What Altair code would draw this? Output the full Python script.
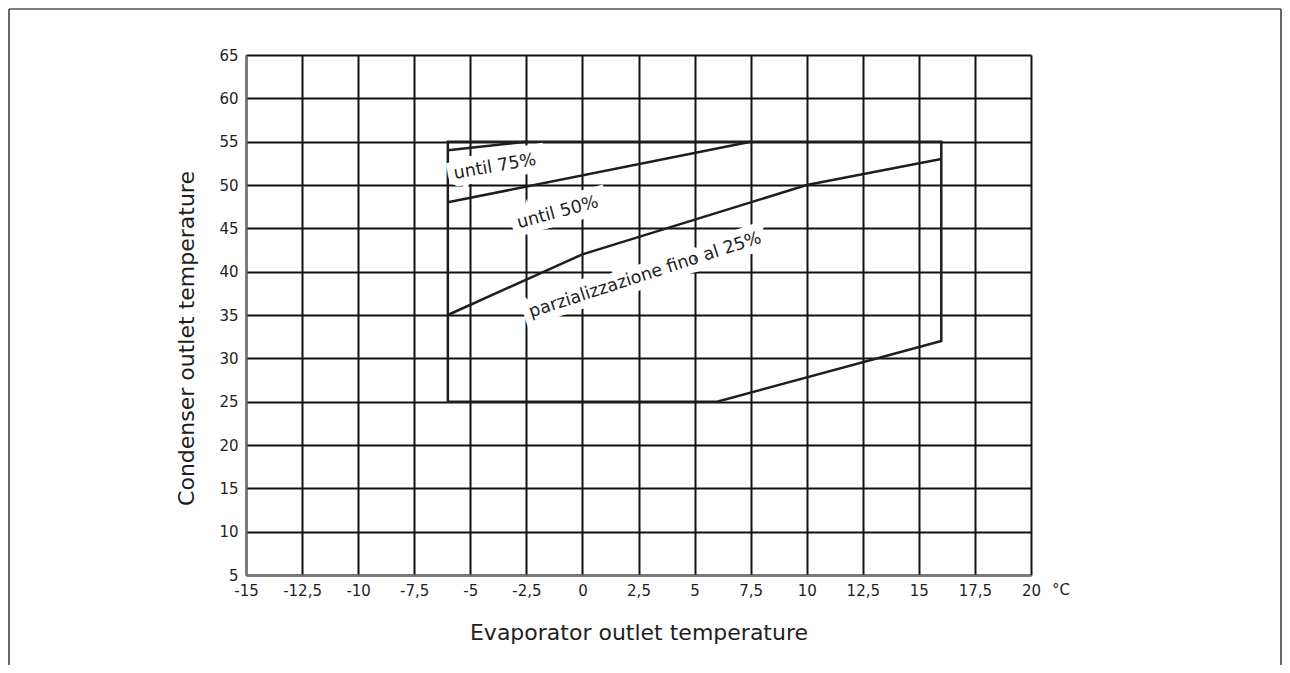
import altair as alt
import pandas as pd

# ---- data ----
x_ticks = [-15, -12.5, -10, -7.5, -5, -2.5, 0, 2.5, 5, 7.5, 10, 12.5, 15, 17.5, 20]
y_ticks = [5, 10, 15, 20, 25, 30, 35, 40, 45, 50, 55, 60, 65]

env_x = [-6, 6, 16, 16, -6, -6]
env_y = [25, 25, 32, 55, 55, 25]

l75_x = [-6, -2.5]
l75_y = [54, 55]

l50_x = [-6, 7.5]
l50_y = [48, 55]

l25_x = [-6, 0, 10, 16]
l25_y = [35, 42, 50, 53]

label_text = ["until 75%", "until 50%", "parzializzazione fino al 25%"]
label_x = [-3.9, -1.1, 2.8]
label_y = [52.1, 46.8, 39.6]
label_angle = [350, 345, 342]

unit_label = "°C"

# ---- tables ----
rows = []
for name, xs, ys in [("envelope", env_x, env_y), ("75", l75_x, l75_y),
                     ("50", l50_x, l50_y), ("25", l25_x, l25_y)]:
    for i, (a, b) in enumerate(zip(xs, ys)):
        rows.append({"series": name, "order": i, "x": a, "y": b})
lines_df = pd.DataFrame(rows)
labels_df = pd.DataFrame({"text": label_text, "x": label_x, "y": label_y, "angle": label_angle})
one = pd.DataFrame({"a": [0]})

FONT = "DejaVu Sans"
INK = "#1e1e1e"

x_enc = alt.X("x:Q",
              scale=alt.Scale(domain=[-15, 20], nice=False, zero=False),
              axis=alt.Axis(values=x_ticks, title="Evaporator outlet temperature",
                            labelExpr="replace(toString(datum.value), '.', ',')",
                            labelFlush=False, labelPadding=8,
                            titleY=57, titleBaseline="middle"))
y_enc = alt.Y("y:Q",
              scale=alt.Scale(domain=[5, 65], nice=False, zero=False),
              axis=alt.Axis(values=y_ticks, title="Condenser outlet temperature",
                            labelFlush=False, labelPadding=8, titleX=-60, titleY=283,
                            titleBaseline="middle", titleAlign="center"))

lines = alt.Chart(lines_df).mark_line(color=INK, strokeWidth=2.5).encode(
    x=x_enc, y=y_enc, detail="series:N", order="order:Q")

halo = alt.Chart(labels_df).mark_text(
    font=FONT, fontSize=17.5, color="white", stroke="white", strokeWidth=15,
    align="center", baseline="middle").encode(
    x=x_enc, y=y_enc, text="text:N", angle=alt.Angle("angle:Q", scale=None))

txt = alt.Chart(labels_df).mark_text(
    font=FONT, fontSize=17.5, color=INK, align="center", baseline="middle").encode(
    x=x_enc, y=y_enc, text="text:N", angle=alt.Angle("angle:Q", scale=None))

unit = alt.Chart(one).mark_text(font=FONT, fontSize=15, color=INK, align="center",
                                baseline="middle").encode(
    x=alt.value(815), y=alt.value(535), text=alt.value(unit_label))

frame_left = alt.Chart(one).mark_rule(color="#333", strokeWidth=1.5).encode(
    x=alt.value(-237), y=alt.value(-46), y2=alt.value(640))
frame_right = alt.Chart(one).mark_rule(color="#333", strokeWidth=1.5).encode(
    x=alt.value(1035), y=alt.value(-46), y2=alt.value(640))
frame_top = alt.Chart(one).mark_rule(color="#555", strokeWidth=1.5).encode(
    x=alt.value(-237), x2=alt.value(1035), y=alt.value(-46))

chart = alt.layer(lines, halo, txt, unit, frame_left, frame_right, frame_top).properties(
    width=785, height=520,
    padding={"left": 238, "top": 47, "right": 251, "bottom": 90},
    autosize=alt.AutoSizeParams(type="none"),
).configure_view(stroke=None).configure_axis(
    labelFont=FONT, labelFontSize=15, labelColor=INK,
    titleFont=FONT, titleFontSize=22, titleFontWeight="normal", titleColor=INK,
    grid=True, gridColor="#111", gridWidth=2, gridOpacity=1,
    domainColor="#777", domainWidth=2, ticks=False,
)

chart.save("out.html", embed_options={"renderer": "svg", "actions": False})
